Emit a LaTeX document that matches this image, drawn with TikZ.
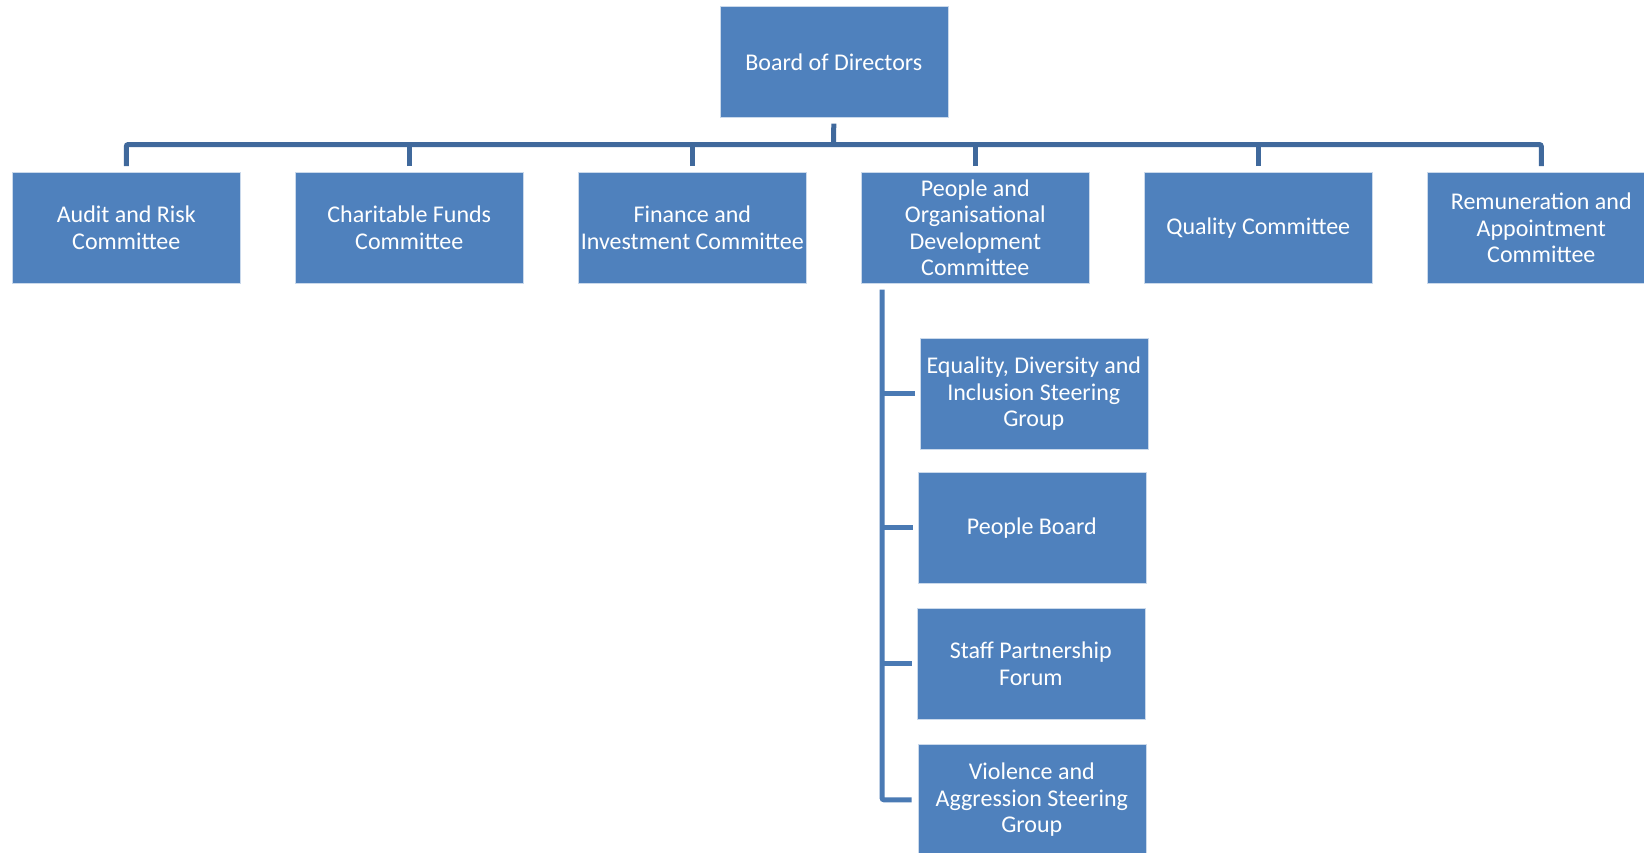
\documentclass[tikz,border=0pt]{standalone}
\usepackage{fontspec}
\setmainfont{Carlito}
\definecolor{boxfill}{HTML}{4F81BD}
\definecolor{linetop}{HTML}{40699C}
\definecolor{linesub}{HTML}{4A7AB4}
\begin{document}
\begin{tikzpicture}[x=1pt,y=-1pt,
  orgbox/.style={fill=boxfill,draw=white!70!boxfill,line width=0.6pt,text=white,minimum width=228pt,minimum height=111pt,inner sep=0pt,align=center,anchor=north west,font=\fontsize{24}{26.3}\selectfont},
  conn/.style={draw=linetop,line width=5pt},
  subconn/.style={draw=linesub,line width=5pt}]
\useasboundingbox (0,0) rectangle (1644,852);
\clip (0,0) rectangle (1644,852);
\node[orgbox] (board) at (719.5,6) {Board of Directors};
\node[orgbox] (audit) at (12,172) {Audit and Risk\\Committee};
\node[orgbox] (char) at (295,172) {Charitable Funds\\Committee};
\node[orgbox] (fin) at (578,172) {Finance and\\Investment Committee};
\node[orgbox] (pod) at (861,172) {People and\\Organisational\\Development\\Committee};
\node[orgbox] (qual) at (1144,172) {Quality Committee};
\node[orgbox] (rem) at (1427,172) {Remuneration and\\Appointment\\Committee};
\node[orgbox] (edi) at (919.5,338) {Equality, Diversity and\\Inclusion Steering\\Group};
\node[orgbox] (pb) at (917.5,472) {People Board};
\node[orgbox] (spf) at (916.5,608) {Staff Partnership\\Forum};
\node[orgbox] (vio) at (917.5,744) {Violence and\\Aggression Steering\\Group};
\coordinate (bar) at (833.5,144.5);
\draw[conn,rounded corners=2pt] ([yshift=6pt]audit.north) |- (bar) -| ([yshift=6pt]rem.north);
\foreach \n in {char,fin,pod,qual}{\draw[conn] ([yshift=6pt]\n.north) -- (\n.north |- bar);}
\draw[conn] ([yshift=-6pt]board.south) -- (bar);
\coordinate (spine) at ([xshift=21pt,yshift=-6pt]pod.south west);
\draw[subconn,rounded corners=2pt] (spine) |- ([xshift=-6pt]vio.west);
\foreach \n in {edi,pb,spf}{\draw[subconn] (spine |- \n.west) -- ([xshift=-5pt]\n.west);}
\end{tikzpicture}
\end{document}
